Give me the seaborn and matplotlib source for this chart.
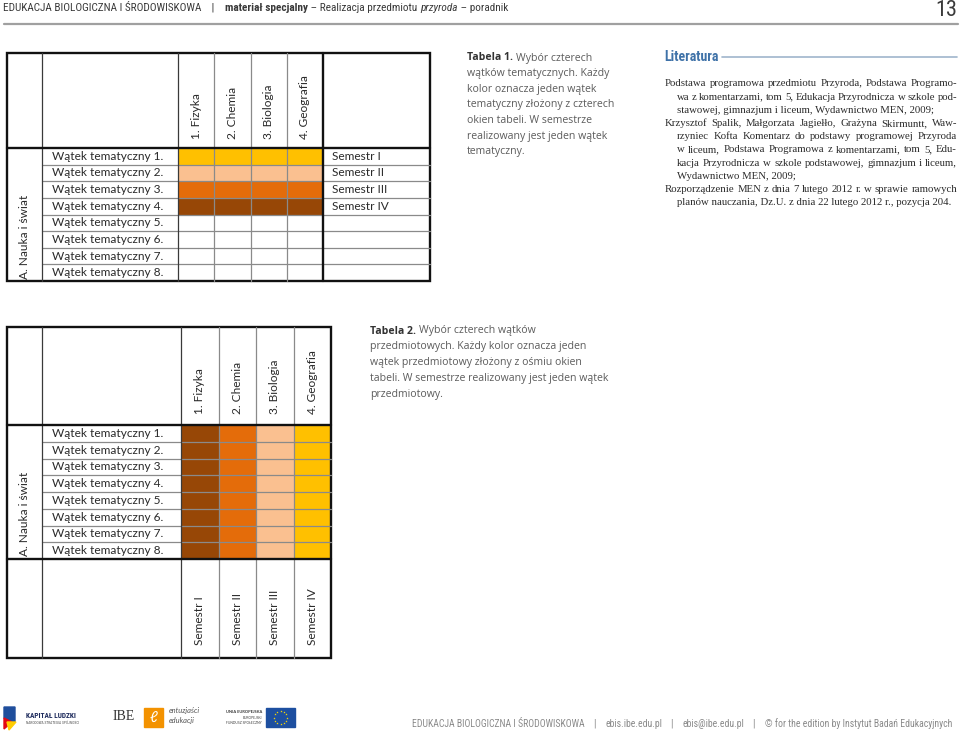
import numpy as np
import pandas as pd
import matplotlib
matplotlib.use("Agg")
import matplotlib.pyplot as plt
import seaborn as sns
from matplotlib.colors import ListedColormap
from matplotlib import font_manager as fm
from matplotlib.patches import Rectangle, Polygon

# ---- data -------------------------------------------------------------
subjects = ["1. Fizyka", "2. Chemia", "3. Biologia", "4. Geografia"]
threads = ["Wątek tematyczny 1.", "Wątek tematyczny 2.", "Wątek tematyczny 3.",
           "Wątek tematyczny 4.", "Wątek tematyczny 5.", "Wątek tematyczny 6.",
           "Wątek tematyczny 7.", "Wątek tematyczny 8."]
semesters = ["Semestr I", "Semestr II", "Semestr III", "Semestr IV"]
side_label = "A. Nauka i świat"

# shade index of each row in table 1 (rows 5-8 stay empty)
t1_row_shade = [0, 1, 2, 3, None, None, None, None]
# shade index of each column in table 2
t2_col_shade = [3, 2, 1, 0]

shades = ["#FFC000", "#FAC090", "#E46C0A", "#974706"]

caption1 = [("Tabela 1.", "Wybór czterech"), (None, "wątków tematycznych. Każdy"),
            (None, "kolor oznacza jeden wątek"), (None, "tematyczny złożony z czterech"),
            (None, "okien tabeli. W semestrze"), (None, "realizowany jest jeden wątek"),
            (None, "tematyczny.")]
caption2 = [("Tabela 2.", "Wybór czterech wątków"),
            (None, "przedmiotowych. Każdy kolor oznacza jeden"),
            (None, "wątek przedmiotowy złożony z ośmiu okien"),
            (None, "tabeli. W semestrze realizowany jest jeden wątek"),
            (None, "przedmiotowy.")]
# (text, indented, justified)
literature = [
    ("Podstawa programowa przedmiotu Przyroda, Podstawa Programo-", False, True),
    ("wa z komentarzami, tom 5, Edukacja Przyrodnicza w szkole pod-", True, True),
    ("stawowej, gimnazjum i liceum, Wydawnictwo MEN, 2009;", True, False),
    ("Krzysztof Spalik, Małgorzata Jagiełło, Grażyna Skirmuntt, Waw-", False, True),
    ("rzyniec Kofta Komentarz do podstawy programowej Przyroda", True, True),
    ("w liceum, Podstawa Programowa z komentarzami, tom 5, Edu-", True, True),
    ("kacja Przyrodnicza w szkole podstawowej, gimnazjum i liceum,", True, True),
    ("Wydawnictwo MEN, 2009;", True, False),
    ("Rozporządzenie MEN z dnia 7 lutego 2012 r. w sprawie ramowych", False, True),
    ("planów nauczania, Dz.U. z dnia 22 lutego 2012 r., pozycja 204.", True, False),
]

df1 = pd.DataFrame([[np.nan if s is None else s] * len(subjects) for s in t1_row_shade],
                   index=threads, columns=subjects)
df2 = pd.DataFrame([t2_col_shade for _ in threads], index=threads, columns=subjects)

# ---- fonts ------------------------------------------------------------
names = {f.name for f in fm.fontManager.ttflist}


def pick(*cands):
    for c in cands:
        if c in names:
            return c
    return "DejaVu Sans"


TABLE_FONT = pick("Lato", "Open Sans")
CAP_FONT = pick("Open Sans", "Noto Sans")
SERIF = pick("Liberation Serif", "DejaVu Serif")
NARROW = pick("Liberation Sans Narrow", "Roboto Condensed", "Roboto")

sns.set_theme(style="white")
plt.rcParams["font.family"] = [TABLE_FONT, "DejaVu Sans"]

W, H = 960, 736
fig = plt.figure(figsize=(9.6, 7.36), dpi=100)
fig.patch.set_facecolor("white")
PT = 72 / 100  # points per pixel


def px_axes(x0, y0, x1, y1, **kw):
    return fig.add_axes([x0 / W, 1 - y1 / H, (x1 - x0) / W, (y1 - y0) / H], **kw)


cmap = ListedColormap(shades)
TFS = 8.6


def draw_table(df, box, head, body_bottom, label_x, hdr_pad):
    x0, x1 = box
    ax = px_axes(x0, head, x1, body_bottom)
    sns.heatmap(df, ax=ax, cmap=cmap, vmin=-0.5, vmax=3.5, cbar=False, linewidths=0,
                xticklabels=True, yticklabels=True)
    ax.xaxis.tick_top()
    ax.set_xticklabels(subjects, rotation=90, ha="center", va="bottom",
                       fontsize=TFS, color="#2a2a2a")
    ax.set_yticklabels(threads, rotation=0, ha="left", fontsize=TFS, color="#2a2a2a")
    ax.tick_params(axis="x", length=0, pad=hdr_pad)
    ax.tick_params(axis="y", length=0, pad=(x0 - label_x) * PT)
    ax.set_xlabel("")
    ax.set_ylabel("")
    ax.patch.set_alpha(0)
    return ax


# table 1 geometry (pixels)
T1 = dict(left=7, right=430, top=53, head=148, bottom=281, lab=42, c0=178, c1=323)
# table 2 geometry
T2 = dict(left=7, right=331, top=327, head=425, body=559, bottom=658, lab=42, c0=181, c1=331)

ax1 = draw_table(df1, (T1["c0"], T1["c1"]), T1["head"], T1["bottom"], 52, 6.5)
for i, sem in enumerate(semesters):
    ax1.annotate(sem, xy=(len(subjects), i + 0.5), xytext=(9 * PT, 0),
                 textcoords="offset points", va="center", ha="left",
                 fontsize=TFS, color="#2a2a2a", annotation_clip=False)

ax2 = draw_table(df2, (T2["c0"], T2["c1"]), T2["head"], T2["body"], 52, 8)
for j, sem in enumerate(semesters):
    ax2.annotate(sem, xy=(j + 0.5, len(threads)), xytext=(0, -86 * PT),
                 textcoords="offset points", va="bottom", ha="center", rotation=90,
                 fontsize=TFS, color="#2a2a2a", annotation_clip=False)

# ---- overlay in pixel coordinates --------------------------------------
bg = fig.add_axes([0, 0, 1, 1], zorder=5)
bg.set_xlim(0, W)
bg.set_ylim(H, 0)
bg.axis("off")
bg.patch.set_alpha(0)

THIN = dict(color="#8a8a8a", lw=0.9)
DARK = dict(color="#3a3a3a", lw=0.9)
THICK = dict(color="#111111", lw=1.7)

# table 1 rules
n = len(threads)
rh = (T1["bottom"] - T1["head"]) / n
for i in range(1, n):
    y = T1["head"] + i * rh
    bg.plot([T1["lab"], T1["right"]], [y, y], **THIN)
cw = (T1["c1"] - T1["c0"]) / len(subjects)
for j in range(1, len(subjects)):
    x = T1["c0"] + j * cw
    bg.plot([x, x], [T1["top"], T1["bottom"]], **THIN)
for x in (T1["lab"], T1["c0"]):
    bg.plot([x, x], [T1["top"], T1["bottom"]], **DARK)
bg.plot([T1["c1"], T1["c1"]], [T1["top"], T1["bottom"]], **THICK)
bg.plot([T1["left"], T1["right"]], [T1["head"], T1["head"]], **THICK)
bg.add_patch(Rectangle((T1["left"], T1["top"]), T1["right"] - T1["left"],
                       T1["bottom"] - T1["top"], fill=False, ec="#111", lw=1.7))
bg.text(25, T1["bottom"] - 2, side_label, rotation=90, ha="center", va="bottom",
        fontsize=TFS, color="#2a2a2a", family=[TABLE_FONT, "DejaVu Sans"])

# table 2 rules
rh = (T2["body"] - T2["head"]) / n
for i in range(1, n):
    y = T2["head"] + i * rh
    bg.plot([T2["lab"], T2["right"]], [y, y], **THIN)
cw = (T2["c1"] - T2["c0"]) / len(subjects)
for j in range(1, len(subjects)):
    x = T2["c0"] + j * cw
    bg.plot([x, x], [T2["top"], T2["bottom"]], **THIN)
for x in (T2["lab"], T2["c0"]):
    bg.plot([x, x], [T2["top"], T2["bottom"]], **DARK)
for y in (T2["head"], T2["body"]):
    bg.plot([T2["left"], T2["right"]], [y, y], **THICK)
bg.add_patch(Rectangle((T2["left"], T2["top"]), T2["right"] - T2["left"],
                       T2["bottom"] - T2["top"], fill=False, ec="#111", lw=1.7))
bg.text(25, T2["body"] - 3, side_label, rotation=90, ha="center", va="bottom",
        fontsize=TFS, color="#2a2a2a", family=[TABLE_FONT, "DejaVu Sans"])

renderer = fig.canvas.get_renderer()


def run(x, y, parts, size, width=None, **kw):
    """Write text pieces one after another; optionally scale to a width."""
    def place(sz):
        objs, cx = [], x
        for s, props in parts:
            t = bg.text(cx, y, s, fontsize=sz, va="center", ha="left", **{**kw, **props})
            cx += t.get_window_extent(renderer).width
            objs.append(t)
        return objs, cx - x
    objs, w = place(size)
    if width:
        for t in objs:
            t.remove()
        objs, w = place(size * width / w)
    return objs


def justify(x0, x1, y, line, **kw):
    words = line.split(" ")
    objs = [bg.text(0, y, w_, va="center", ha="left", **kw) for w_ in words]
    widths = [t.get_window_extent(renderer).width for t in objs]
    gap = (x1 - x0 - sum(widths)) / max(len(words) - 1, 1)
    cx = x0
    for t, w_ in zip(objs, widths):
        t.set_x(cx)
        cx += w_ + gap


# page header
hdr = dict(family=[NARROW, "DejaVu Sans"], color="#3a3a3a")
run(3, 8, [("EDUKACJA BIOLOGICZNA I ŚRODOWISKOWA", {}), ("    |    ", {}),
           ("materiał specjalny", {"fontweight": "bold"}),
           (" – Realizacja przedmiotu ", {}), ("przyroda", {"fontstyle": "italic"}),
           (" – poradnik", {})], 8, width=504, **hdr)
bg.text(957, 10, "13", ha="right", va="center", fontsize=16, **hdr)
bg.plot([4, 958], [24, 24], color="#a0a0a0", lw=1.6)

# captions
cap = dict(family=[CAP_FONT, "DejaVu Sans"], color="#5c5c5c")
for k, (b, s) in enumerate(caption1):
    parts = ([(b + " ", {"fontweight": "bold", "color": "#333"})] if b else []) + [(s, {})]
    run(467, 58 + k * 15.6, parts, 7.6, **cap)
for k, (b, s) in enumerate(caption2):
    parts = ([(b + " ", {"fontweight": "bold", "color": "#333"})] if b else []) + [(s, {})]
    run(370, 331 + k * 16, parts, 7.6, **cap)

# literature
bg.text(664, 57, "Literatura", fontsize=10, fontweight="bold", color="#3f72a8",
        va="center", ha="left", family=[NARROW, "DejaVu Sans"])
bg.plot([722, 957], [57, 57], color="#9fb5cc", lw=1.2)
ser = dict(family=[SERIF, "DejaVu Serif"], color="#2a2a2a", fontsize=7.75)
for k, (s, ind, jus) in enumerate(literature):
    y = 84 + k * 13.2
    x0 = 677 if ind else 665
    if jus:
        justify(x0, 957, y, s, **ser)
    else:
        bg.text(x0, y, s, va="center", ha="left", **ser)

# footer text
run(412, 724, [("EDUKACJA BIOLOGICZNA I ŚRODOWISKOWA", {}), ("    |    ", {}),
               ("ebis.ibe.edu.pl", {}), ("    |    ", {}), ("ebis@ibe.edu.pl", {}),
               ("    |    ", {}), ("© for the edition by Instytut Badań Edukacyjnych", {})],
    7, width=545, family=[NARROW, "DejaVu Sans"], color="#8a8a8a")

# footer logos (simplified)
bg.add_patch(Polygon([[4, 707], [15, 707], [15, 722], [8, 722], [4, 718]], color="#1f4e9c"))
bg.add_patch(Polygon([[4, 718], [12, 722], [4, 729]], color="#e30613"))
bg.add_patch(Polygon([[7, 722], [16, 722], [9, 730]], color="#ffcc00"))
bg.text(26, 716, "KAPITAŁ LUDZKI", fontsize=5.3, fontweight="bold", color="#1d2a5c",
        va="center", family=[NARROW, "DejaVu Sans"])
bg.text(26, 723, "NARODOWA STRATEGIA SPÓJNOŚCI", fontsize=2.6, color="#555",
        va="center", family=[NARROW, "DejaVu Sans"])
bg.text(113, 717, "IBE", fontsize=10, color="#333", va="center", family=[SERIF])
bg.add_patch(Rectangle((144, 708), 19, 19, color="#f39200"))
bg.text(153.5, 717.5, "ℓ", fontsize=11, color="white", ha="center", va="center",
        fontstyle="italic")
bg.text(169, 711, "entuzjaści", fontsize=5.4, fontstyle="italic", color="#555", va="center")
bg.text(169, 721, "edukacji", fontsize=5.4, fontstyle="italic", color="#555", va="center")
bg.text(262, 712, "UNIA EUROPEJSKA", fontsize=2.9, fontweight="bold", color="#333",
        ha="right", va="center")
bg.text(262, 718, "EUROPEJSKI", fontsize=2.4, color="#444", ha="right", va="center")
bg.text(262, 722.5, "FUNDUSZ SPOŁECZNY", fontsize=2.4, color="#444", ha="right", va="center")
bg.add_patch(Rectangle((266, 708), 29, 19, color="#1d4fa0"))
ang = np.linspace(0, 2 * np.pi, 12, endpoint=False)
bg.scatter(280.5 + 6.5 * np.cos(ang), 717.5 + 6.5 * np.sin(ang), marker="*", s=3,
           color="#ffdd00", lw=0)

fig.savefig("out.png", dpi=100, facecolor="white")
